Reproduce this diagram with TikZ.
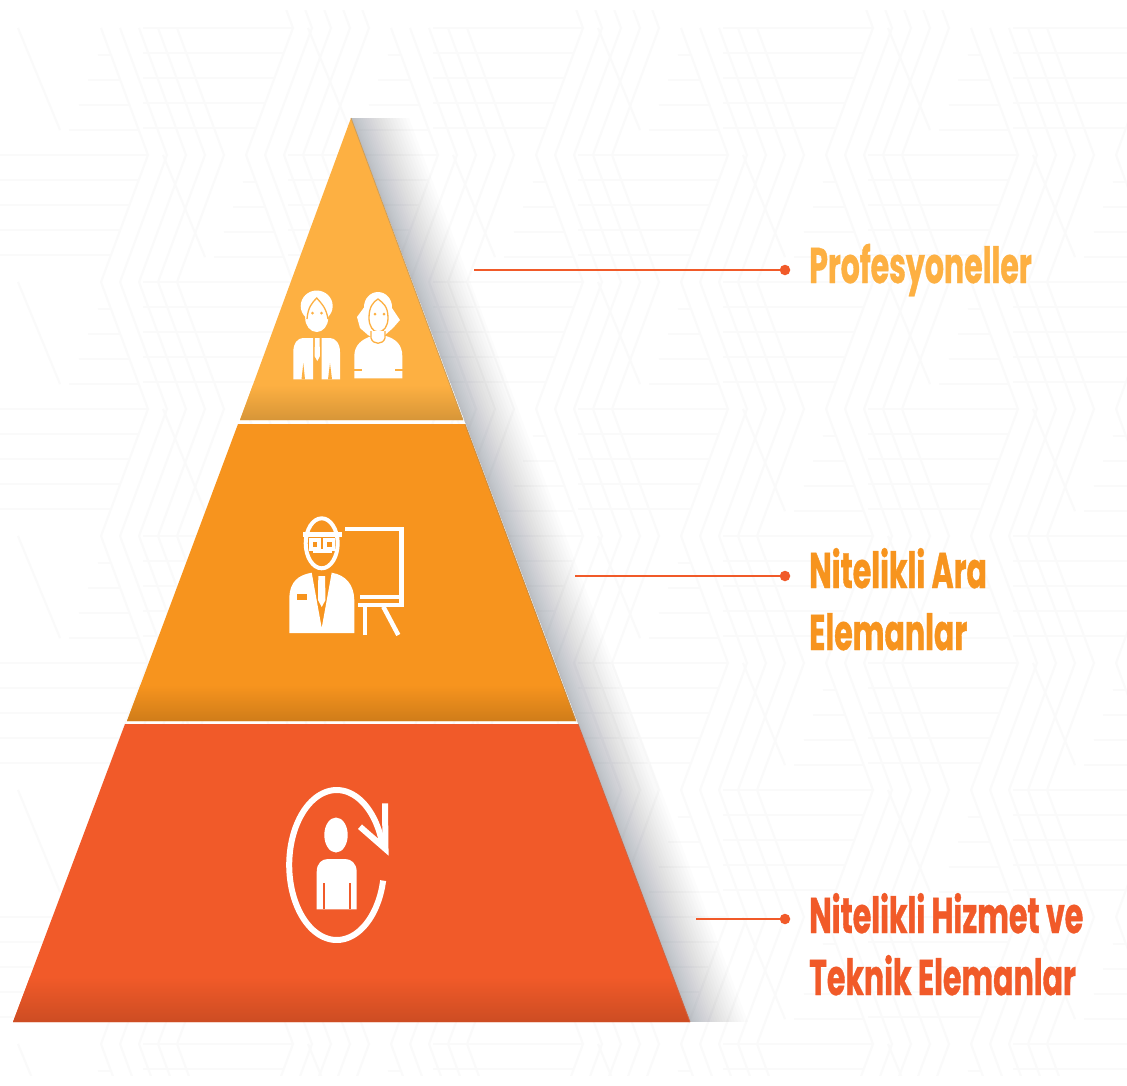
\documentclass[tikz,border=0pt]{standalone}
\usepackage{fontspec}
\usepackage{xcolor}
\newfontfamily\LabelFont[FakeStretch=.6,FakeBold=.7]{Poppins}
\definecolor{ColTop}{RGB}{253,176,66}
\definecolor{ColMid}{RGB}{247,148,30}
\definecolor{ColLow}{RGB}{241,90,41}
\definecolor{ColBg}{RGB}{250,250,250}
\definecolor{ColShadow}{RGB}{30,40,55}
\tikzstyle{Tile}=[draw=ColBg,line width=2pt]
\tikzstyle{Leader}=[draw=ColLow,line width=1.8pt]
\tikzstyle{Dot}=[circle,fill=ColLow,inner sep=0pt,minimum size=10.5pt]
\tikzstyle{Label}=[anchor=base west,inner sep=0pt,align=left,
font=\LabelFont\bfseries\fontsize{50}{62}\selectfont]
\tikzstyle{Icon}=[fill=white,draw=none]
\tikzstyle{IconLine}=[draw=white,line width=4.5pt]
\newcommand{\BgTile}[2]{
    \begin{scope}[shift={(#1,#2)}]
        \foreach \k in {0,1,2,3,4}{
            \draw[Tile](19*\k-47,-127)--(19*\k,0)--(19*\k-47,127);
        }
        \foreach \k in {0,1,2,3,4}{
            \draw[Tile](-150,25*\k)--(-.375*25*\k,25*\k);
        }
        \foreach \k in {1,2,3,4}{
            \draw[Tile](-88+9.4*\k,-25*\k)--(-.375*25*\k,-25*\k);
        }
        \draw[Tile](-130,-127)--(-88,-25);
    \end{scope}
}
\begin{document}
\begin{tikzpicture}[x=1pt,y=-1pt]
        \useasboundingbox(0,0)rectangle(1127,1085);
        \fill[white](0,0)rectangle(1127,1085);
        \begin{scope}
            \clip(0,10)rectangle(1127,1075);
            \foreach \i in {0,1,2,3}{
                \foreach \j in {0,1,2,3,4}{
                    \BgTile{148+290*\i}{155+254*\j}
                    \BgTile{293+290*\i}{28+254*\j}
                }
            }
        \end{scope}
        \coordinate(apex)at(351,118);
        \coordinate(baseR)at(690,1022);
        \coordinate(baseL)at(13,1022);
        \foreach \s in {1,...,25}{
            \pgfmathsetmacro{\w}{1+57*(\s/25)^1.5}
            \fill[ColShadow,fill opacity=.0105]
                (apex)--(351+\w,118)--(690+\w,1022)--(baseR)--cycle;
        }
        \fill[ColTop](apex)--(463,420)--(240,420)--cycle;
        \shade[top color=ColTop,bottom color=ColTop!85!black]
            (253,385)--(450,385)--(463,420)--(240,420)--cycle;
        \fill[ColMid](238,424)--(465,424)--(576,721)--(127,721)--cycle;
        \shade[top color=ColMid,bottom color=ColMid!84!black]
            (140.5,685)--(562.5,685)--(576,721)--(127,721)--cycle;
        \fill[ColLow](125,724)--(578,724)--(690,1022)--(13,1022)--cycle;
        \shade[top color=ColLow,bottom color=ColLow!85!black]
            (30,977)--(673,977)--(690,1022)--(13,1022)--cycle;
        \draw[ColTop!60!gray,line width=.8pt](apex)--(463,420);
        \draw[ColMid!60!gray,line width=.8pt](465,424)--(576,721);
        \draw[ColLow!70!gray,line width=.8pt](578,724)--(baseR);
        % top icon, two people
        \fill[Icon](316.7,306)ellipse[x radius=16,y radius=15.5];
        \fill[Icon](316.7,318)ellipse[x radius=11.5,y radius=14];
        \draw[ColTop,line width=1.3pt](307,319)..controls(308,307)and(312,303)..
            (316.7,298)..controls(321,303)and(326,307)..(328,319);
        \fill[ColTop](312.5,313)circle[radius=1.5];
        \fill[ColTop](321.5,313)circle[radius=1.5];
        \fill[Icon](293.3,379.3)--(293.3,352)..controls(293.3,343)and(298,338)..
            (303,338)--(313,338)--(313,379.3)--cycle;
        \fill[Icon](340,379.3)--(340,352)..controls(340,343)and(335,338)..
            (330,338)--(321.7,338)--(321.7,379.3)--cycle;
        \fill[Icon](315,338)--(319.5,338)--(320,356)--(317.3,361)--(314.5,356)--cycle;
        \fill[ColTop](301.5,379.3)--(303.3,363)--(305,379.3)--cycle;
        \fill[ColTop](328,379.3)--(330,363)--(332,379.3)--cycle;
        \fill[Icon](378,307)ellipse[x radius=14,y radius=15];
        \fill[Icon](368,302)--(357,317)--(360,328)--(368,335)--(372,337)--(375,312)--cycle;
        \fill[Icon](388,302)--(400,320)--(393,328)--(385,335)--(380,312)--cycle;
        \fill[Icon](354.3,378.3)--(354.3,356)..controls(354.3,345)and(362,339)..
            (372,336)--(386,336)
            ..controls(396,339)and(402.3,345)..(402.3,356)--(402.3,378.3)--cycle;
        \draw[ColTop,fill=white,line width=1.3pt](369,318)..controls(369,307)and(373,302)..
            (378,299)..controls(383,303)and(388,306)..(388,318)
            ..controls(388,326)and(384,332)..(378,332)
            ..controls(373,332)and(369,326)..(369,318)--cycle;
        \draw[ColTop,fill=white,line width=1.3pt](371,331)--(371,338)
            ..controls(373,345)and(383,345)..(385,338)--(385,331);
        \fill[ColTop](375,314)circle[radius=1.5];
        \fill[ColTop](384,314)circle[radius=1.5];
        \draw[ColTop,line width=2pt](354,370)--(361.5,370);
        \draw[ColTop,line width=2pt](395,370)--(403,370);
        % middle icon, man at a board
        \draw[IconLine,line width=4pt](321.7,543.3)ellipse[x radius=16,y radius=25];
        \draw[IconLine,line width=5pt](303.3,534)--(341.5,534);
        \draw[IconLine,line width=3.5pt](311,540)rectangle(319,549);
        \draw[IconLine,line width=3.5pt](325,540)rectangle(333.5,549);
        \fill[Icon](313,549)rectangle(332,553);
        \fill[Icon](289.3,633)--(289.3,597)..controls(290,582)and(298,575)..
            (311.7,572.7)--(321.7,628)--(331.7,572.7)
            ..controls(346,575)and(354,585)..(354.3,600)--(354.3,633)--cycle;
        \fill[Icon](318.3,576)--(325,576)--(325.5,600)--(321.7,607)--(318,600)--cycle;
        \fill[ColMid](297.3,594.3)rectangle(306.7,600);
        \draw[IconLine](345,529)--(401.7,529)--(401.7,605)--(358,605);
        \draw[IconLine,line width=3.5pt](360,597)--(400,597);
        \draw[IconLine](365,606)--(365,635);
        \draw[IconLine](383.3,606.7)--(398.3,635);
        % bottom icon, person in a turning arrow
        \fill[Icon](336,835)ellipse[x radius=11.7,y radius=17.5];
        \fill[Icon](316.7,909.3)--(316.7,872)..controls(316.7,863)and(322,859)..
            (328,859)--(345,859)..controls(351,859)and(356.7,863)..
            (356.7,872)--(356.7,909.3)--cycle;
        \fill[ColLow](322.5,882.7)rectangle(324.5,909.3);
        \fill[ColLow](349,882.7)rectangle(351,909.3);
        \draw[IconLine,line width=6pt]plot[smooth,domain=12:346,samples=60]
            ({336.7+47.5*cos(\x)},{865+75*sin(\x)});
        \draw[IconLine,line width=6pt,miter limit=6](385,803.3)--(385.5,849)--(360,826.7);
        % leaders and labels
        \coordinate(ProfStart)at(474,270);
        \coordinate(AraStart)at(575,576);
        \coordinate(TekStart)at(696,919);
        \node[Dot](ProfDot)at(785,270){};
        \node[Dot](AraDot)at(785,576){};
        \node[Dot](TekDot)at(785,919){};
        \draw[Leader](ProfStart)--(ProfDot);
        \draw[Leader](AraStart)--(AraDot);
        \draw[Leader](TekStart)--(TekDot);
        \node[Label,text=ColTop](ProfLabel)at(809,283){Profesyoneller};
        \node[Label,text=ColMid](AraLabel)at(809,588){Nitelikli Ara};
        \node[Label,text=ColMid](AraLabelB)at(809,650){Elemanlar};
        \node[Label,text=ColLow](TekLabel)at(809,933){Nitelikli Hizmet ve};
        \node[Label,text=ColLow](TekLabelB)at(809,995){Teknik Elemanlar};
    \end{tikzpicture}
\end{document}
